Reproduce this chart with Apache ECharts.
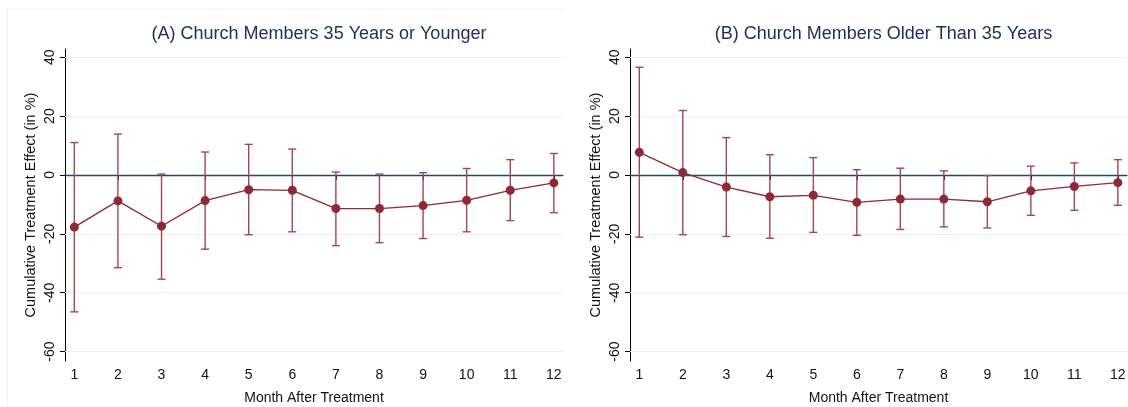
<!DOCTYPE html>
<html>
<head>
<meta charset="utf-8">
<script src="https://cdn.jsdelivr.net/npm/echarts@6/dist/echarts.min.js"></script>
<style>
  html, body { margin: 0; padding: 0; background: #fff; }
  #chart { width: 1128px; height: 407px; }
</style>
</head>
<body>
<div id="chart"></div>
<script>
// months after treatment
const months = [1, 2, 3, 4, 5, 6, 7, 8, 9, 10, 11, 12]
const yTicks = [-60, -40, -20, 0, 20, 40]

// (A) 35 or younger
const estA = [-17.7, -8.8, -17.4, -8.7, -5.0, -5.2, -11.4, -11.4, -10.4, -8.6, -5.2, -2.7]
const upA = [11.0, 13.9, 0.3, 7.8, 10.4, 8.8, 1.0, 0.3, 0.8, 2.2, 5.2, 7.3]
const loA = [-46.5, -31.5, -35.4, -25.2, -20.3, -19.3, -24.0, -23.0, -21.6, -19.3, -15.5, -12.8]

// (B) older than 35
const estB = [7.7, 0.8, -4.1, -7.4, -6.9, -9.3, -8.2, -8.2, -9.1, -5.4, -3.9, -2.6]
const upB = [36.6, 21.9, 12.7, 6.9, 5.9, 1.8, 2.3, 1.4, -0.2, 3.0, 4.1, 5.2]
const loB = [-21.1, -20.3, -20.9, -21.5, -19.5, -20.5, -18.5, -17.6, -18.0, -13.7, -12.0, -10.3]

const titles = ['(A) Church Members 35 Years or Younger', '(B) Church Members Older Than 35 Years']

const maroon = '#8c2a37'
const barColor = '#a34652'
const font = '"Liberation Sans", Arial, sans-serif'

const chart = echarts.init(document.getElementById('chart'))

const grids = [
  { left: 65, width: 498, top: 49, height: 312, outerBoundsMode: 'none' },
  { left: 630, width: 497, top: 49, height: 312, outerBoundsMode: 'none' },
]

const xAxes = grids.map((g, i) => ({
  type: 'value',
  gridIndex: i,
  min: 0.786,
  max: 12.21,
  name: 'Month After Treatment',
  nameLocation: 'middle',
  nameGap: 30,
  nameTextStyle: { color: '#111', fontSize: 14, fontFamily: font },
  axisLine: { lineStyle: { color: '#000', width: 1 } },
  axisTick: { show: true, length: 5, customValues: months, lineStyle: { color: '#000' } },
  axisLabel: { customValues: months, color: '#111', fontSize: 14, fontFamily: font, margin: 7 },
  splitLine: { show: false },
}))

const yAxes = grids.map((g, i) => ({
  type: 'value',
  gridIndex: i,
  min: -63.2,
  max: 42.8,
  name: 'Cumulative Treatment Effect (in %)',
  nameLocation: 'middle',
  nameGap: 27,
  nameTextStyle: { color: '#111', fontSize: 14.5, fontFamily: font },
  axisLine: { show: true, lineStyle: { color: '#000', width: 1 } },
  axisTick: { show: true, length: 5, customValues: yTicks, lineStyle: { color: '#000' } },
  axisLabel: { customValues: yTicks, rotate: 90, color: '#111', fontSize: 14, fontFamily: font, margin: 8 },
  splitLine: { show: false },
}))

function errorBars(lo, up) {
  return months.map((m, i) => [m, lo[i], up[i]])
}

function renderBar(params, api) {
  const x = api.value(0)
  const lo = api.coord([x, api.value(1)])
  const hi = api.coord([x, api.value(2)])
  const cap = 4
  const style = { stroke: barColor, lineWidth: 1.4 }
  return {
    type: 'group',
    children: [
      { type: 'line', shape: { x1: lo[0], y1: lo[1], x2: hi[0], y2: hi[1] }, style },
      { type: 'line', shape: { x1: lo[0] - cap, y1: lo[1], x2: lo[0] + cap, y2: lo[1] }, style },
      { type: 'line', shape: { x1: hi[0] - cap, y1: hi[1], x2: hi[0] + cap, y2: hi[1] }, style },
    ],
  }
}

const panels = [
  { est: estA, lo: loA, up: upA },
  { est: estB, lo: loB, up: upB },
]

const series = []
panels.forEach((p, i) => {
  // light grid lines + zero reference line
  series.push({
    type: 'line',
    xAxisIndex: i,
    yAxisIndex: i,
    data: [],
    silent: true,
    z: 0,
    markLine: {
      silent: true,
      symbol: 'none',
      label: { show: false },
      animation: false,
      data: yTicks.map((v) => ({
        yAxis: v,
        lineStyle: v === 0
          ? { color: '#1f4a6e', width: 1.3, type: 'solid' }
          : { color: '#e8f0f1', width: 1, type: 'solid' },
      })),
    },
  })
  series.push({
    type: 'custom',
    xAxisIndex: i,
    yAxisIndex: i,
    renderItem: renderBar,
    data: errorBars(p.lo, p.up),
    z: 5,
  })
  series.push({
    type: 'line',
    xAxisIndex: i,
    yAxisIndex: i,
    data: months.map((m, k) => [m, p.est[k]]),
    symbol: 'circle',
    symbolSize: 9,
    lineStyle: { color: maroon, width: 1.3 },
    itemStyle: { color: maroon },
    z: 6,
  })
})

chart.setOption({
  animation: false,
  backgroundColor: '#fff',
  title: titles.map((t, i) => ({
    text: t,
    left: grids[i].left + grids[i].width / 2,
    textAlign: 'center',
    top: 20,
    textStyle: { color: '#1e2d5c', fontSize: 18, fontWeight: 'normal', fontFamily: font },
  })),
  graphic: [
    {
      type: 'polyline',
      shape: { points: [[7, 407], [7, 9], [565, 9]] },
      style: { stroke: '#eef3f4', lineWidth: 1, fill: null },
      silent: true,
    },
  ],
  grid: grids,
  xAxis: xAxes,
  yAxis: yAxes,
  series,
})
</script>
</body>
</html>
